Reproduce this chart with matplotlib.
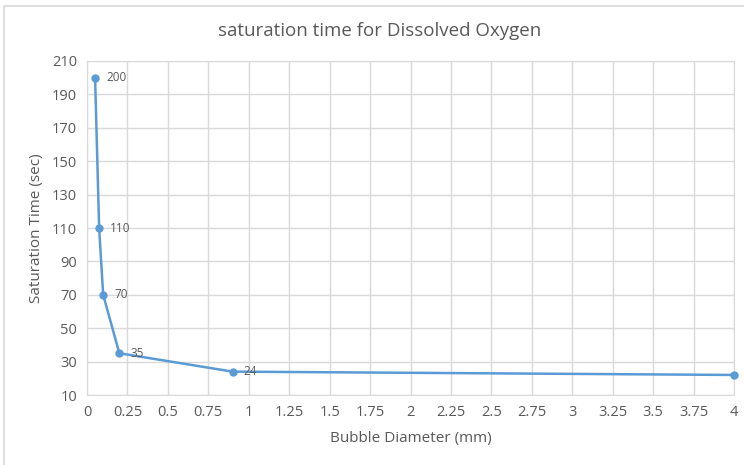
import matplotlib.pyplot as plt
from matplotlib.patches import Rectangle

# data
diameter_mm = [0.05, 0.075, 0.1, 0.2, 0.9, 4.0]
sat_time_s = [200, 110, 70, 35, 24, 22]
point_labels = ["200", "110", "70", "35", "24", "22"]

x_ticks = [0, 0.25, 0.5, 0.75, 1, 1.25, 1.5, 1.75, 2, 2.25, 2.5, 2.75, 3, 3.25, 3.5, 3.75, 4]
y_ticks = list(range(10, 211, 20))

plt.rcParams.update({'font.family': ['Open Sans', 'DejaVu Sans']})

line_col = "#5B9BD5"
text_col = "#595959"
grid_col = "#D9D9D9"

fig = plt.figure(figsize=(7.44, 4.65), dpi=100)
ax = fig.add_axes([87 / 744, 70 / 465, 647 / 744, 334 / 465])

# chart-area border
fig.patches.append(Rectangle((4 / 744, -0.05), 1.0, (465 - 6) / 465 + 0.05,
                             transform=fig.transFigure, fill=False,
                             edgecolor="#D9D9D9", linewidth=1.2))

ax.plot(diameter_mm, sat_time_s, color=line_col, linewidth=1.8,
        marker="o", markersize=5, clip_on=False, zorder=3)

for x, y, lab in zip(diameter_mm, sat_time_s, point_labels):
    ax.annotate(lab, (x, y), xytext=(8, 0), textcoords="offset points",
                va="center", ha="left", fontsize=8.5, color=text_col,
                annotation_clip=False)

ax.set_xlim(0, 4)
ax.set_ylim(10, 210)
ax.set_xticks(x_ticks)
ax.set_xticklabels([f"{v:g}" for v in x_ticks])
ax.set_yticks(y_ticks)

ax.grid(True, color=grid_col, linewidth=1)
ax.set_axisbelow(True)
for s in ax.spines.values():
    s.set_color(grid_col)
ax.tick_params(length=0, colors=text_col, labelsize=10.5, pad=7)

fig.text(380 / 744, 1 - 31 / 465, "saturation time for Dissolved Oxygen",
         fontsize=13.5, color=text_col, ha="center", va="center")
ax.set_xlabel("Bubble Diameter (mm)", fontsize=11, color=text_col, labelpad=8)
ax.set_ylabel("Saturation Time (sec)", fontsize=11, color=text_col, labelpad=6)

fig.savefig("out.png", dpi=100)
